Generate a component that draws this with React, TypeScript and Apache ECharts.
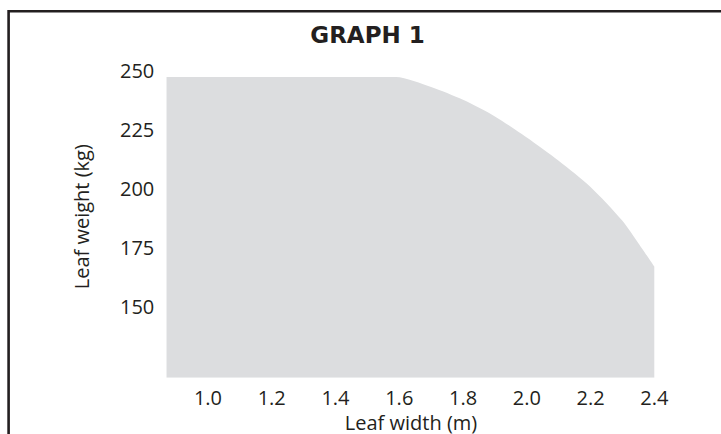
import React, { useEffect, useRef } from "react";
import * as echarts from "echarts";

const titleText = "GRAPH 1";
const xAxisName = "Leaf width (m)";
const yAxisName = "Leaf weight (kg)";

const leafWidth = [0.87, 1.5, 1.59, 1.7, 1.8, 1.9, 2.0, 2.1, 2.2, 2.3, 2.35, 2.4];
const leafWeight = [247, 247, 247, 242.8, 237.4, 230.4, 221.5, 211.7, 200.6, 186.3, 176.8, 167];

const xTickLabels = ["1.0", "1.2", "1.4", "1.6", "1.8", "2.0", "2.2", "2.4"];
const yTickLabels = [150, 175, 200, 225, 250];

const TEXT = "#231F20";
const FILL = "#DCDDDF";
const FONT = "'Open Sans', 'Noto Sans', sans-serif";

export default function App() {
  const ref = useRef<HTMLDivElement>(null);

  useEffect(() => {
    if (!ref.current) return;
    const chart = echarts.init(ref.current, null, { renderer: "svg" });
    const data = leafWidth.map((x, i) => [x, leafWeight[i]]);
    chart.setOption({
      animation: false,
      backgroundColor: "#ffffff",
      grid: { left: 144.2, right: 66.7, top: 70, bottom: 56.3, containLabel: false },
      xAxis: {
        type: "value",
        min: 0.8,
        max: 2.4,
        interval: 0.2,
        axisLine: { show: false },
        axisTick: { show: false },
        splitLine: { show: false },
        axisLabel: {
          margin: 10,
          color: TEXT,
          fontFamily: FONT,
          fontSize: 20,
          showMinLabel: true,
          showMaxLabel: true,
          formatter: (v: number) => {
            const s = v.toFixed(1);
            return xTickLabels.includes(s) ? s : "";
          },
        },
      },
      yAxis: {
        type: "value",
        min: 120,
        max: 250,
        interval: 5,
        axisLine: { show: false },
        axisTick: { show: false },
        splitLine: { show: false },
        axisLabel: {
          margin: -10.1,
          color: TEXT,
          fontFamily: FONT,
          fontSize: 20,
          showMinLabel: true,
          showMaxLabel: true,
          formatter: (v: number) => (yTickLabels.includes(Math.round(v)) ? String(Math.round(v)) : ""),
        },
      },
      series: [
        {
          type: "line",
          data,
          showSymbol: false,
          symbol: "none",
          smooth: 0.25,
          lineStyle: { width: 0, color: FILL },
          areaStyle: { color: FILL, opacity: 1, origin: "start" },
          silent: true,
        },
      ],
      graphic: [
        {
          type: "polyline",
          shape: { points: [[8.6, 440], [8.6, 11.3], [730, 11.3]] },
          style: { stroke: TEXT, lineWidth: 2.6, fill: null },
          silent: true,
        },
        {
          type: "text",
          x: 367.5,
          y: 35,
          style: {
            text: titleText,
            fill: TEXT,
            font: "bold 23px 'DejaVu Sans', sans-serif",
            align: "center",
            verticalAlign: "middle",
          },
        },
        {
          type: "text",
          x: 81.7,
          y: 216.7,
          rotation: Math.PI / 2,
          style: {
            text: yAxisName,
            fill: TEXT,
            font: `20px ${FONT}`,
            align: "center",
            verticalAlign: "middle",
          },
        },
        {
          type: "text",
          x: 411,
          y: 422,
          style: {
            text: xAxisName,
            fill: TEXT,
            font: `20px ${FONT}`,
            lineHeight: 20,
            align: "center",
            verticalAlign: "middle",
          },
        },
      ],
    });
    return () => chart.dispose();
  }, []);

  return (
    <div
      ref={ref}
      style={{ position: "absolute", left: 0, top: 0, width: 721, height: 434 }}
    />
  );
}
